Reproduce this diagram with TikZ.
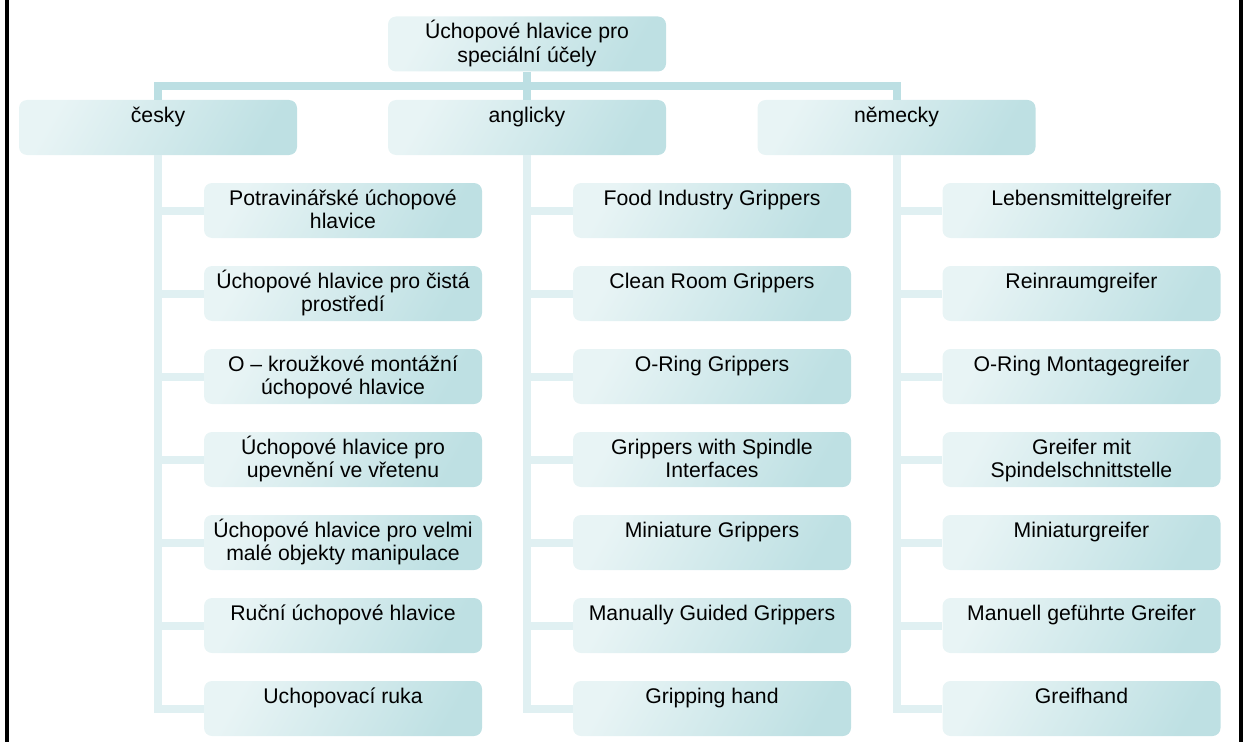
\documentclass[tikz,border=0pt]{standalone}
\usepackage{fontspec}
\setmainfont{Liberation Sans}
\usetikzlibrary{positioning}
\definecolor{boxlight}{HTML}{E8F4F5}
\definecolor{boxmid}{HTML}{DCEFF0}
\definecolor{boxdark}{HTML}{BEE0E3}
\definecolor{trunkline}{HTML}{BCDFE3}
\definecolor{twigline}{HTML}{E0F0F2}

% text sits at the top of every box, first baseline 0.45cm down
\newcommand{\celltext}[1]{\parbox[c][1.1cm][t]{5.56cm}{\centering\rule{0pt}{0.45cm}#1}}

\begin{document}
\begin{tikzpicture}[
  box/.style={rounded corners=0.16cm, inner sep=0pt, minimum width=5.56cm, minimum height=1.1cm,
              top color=boxlight, middle color=boxmid, bottom color=boxdark, shading angle=60,
              font=\fontsize{12.07pt}{13.2pt}\selectfont},
  trunk/.style={draw=trunkline, line width=0.16cm},
  twig/.style={draw=twigline, line width=0.16cm}
]
  \useasboundingbox (0,0) rectangle (24.94,-14.84);

  % side rules of the page
  \draw[line width=0.08cm] (0.14,0) -- (0.14,-14.84);
  \draw[line width=0.08cm] (24.82,0) -- (24.82,-14.84);

  % root and languages
  \node[box] (root) at (10.54,-0.88) {\celltext{Úchopové hlavice pro\\speciální účely}};
  \node[box] (cz) at (3.16,-2.55) {\celltext{česky}};
  \node[box] (en) at (10.54,-2.55) {\celltext{anglicky}};
  \node[box] (de) at (17.93,-2.55) {\celltext{německy}};

  % Czech terms
  \node[box] (cz1) at (6.86,-4.21) {\celltext{Potravinářské úchopové\\hlavice}};
  \node[box] (cz2) at (6.86,-5.87) {\celltext{Úchopové hlavice pro čistá\\prostředí}};
  \node[box] (cz3) at (6.86,-7.53) {\celltext{O – kroužkové montážní\\úchopové hlavice}};
  \node[box] (cz4) at (6.86,-9.19) {\celltext{Úchopové hlavice pro\\upevnění ve vřetenu}};
  \node[box] (cz5) at (6.86,-10.85) {\celltext{Úchopové hlavice pro velmi\\malé objekty manipulace}};
  \node[box] (cz6) at (6.86,-12.51) {\celltext{Ruční úchopové hlavice}};
  \node[box] (cz7) at (6.86,-14.17) {\celltext{Uchopovací ruka}};

  % English terms
  \node[box] (en1) at (14.24,-4.21) {\celltext{Food Industry Grippers}};
  \node[box] (en2) at (14.24,-5.87) {\celltext{Clean Room Grippers}};
  \node[box] (en3) at (14.24,-7.53) {\celltext{O-Ring Grippers}};
  \node[box] (en4) at (14.24,-9.19) {\celltext{Grippers with Spindle\\Interfaces}};
  \node[box] (en5) at (14.24,-10.85) {\celltext{Miniature Grippers}};
  \node[box] (en6) at (14.24,-12.51) {\celltext{Manually Guided Grippers}};
  \node[box] (en7) at (14.24,-14.17) {\celltext{Gripping hand}};

  % German terms
  \node[box] (de1) at (21.63,-4.21) {\celltext{Lebensmittelgreifer}};
  \node[box] (de2) at (21.63,-5.87) {\celltext{Reinraumgreifer}};
  \node[box] (de3) at (21.63,-7.53) {\celltext{O-Ring Montagegreifer}};
  \node[box] (de4) at (21.63,-9.19) {\celltext{Greifer mit\\Spindelschnittstelle}};
  \node[box] (de5) at (21.63,-10.85) {\celltext{Miniaturgreifer}};
  \node[box] (de6) at (21.63,-12.51) {\celltext{Manuell geführte Greifer}};
  \node[box] (de7) at (21.63,-14.17) {\celltext{Greifhand}};

  % root to languages
  \coordinate (bus) at (10.54,-1.72);
  \draw[trunk] (root.south) -- (en.north);
  \draw[trunk] (cz.north) |- (bus) -| (de.north);

  % languages to terms
  \foreach \g in {cz,en,de} {
    \draw[twig] (\g.south) |- (\g7.west);
    \foreach \i in {1,...,6}
      \draw[twig] (\g.south |- \g\i.west) -- (\g\i.west);
  }
\end{tikzpicture}
\end{document}
